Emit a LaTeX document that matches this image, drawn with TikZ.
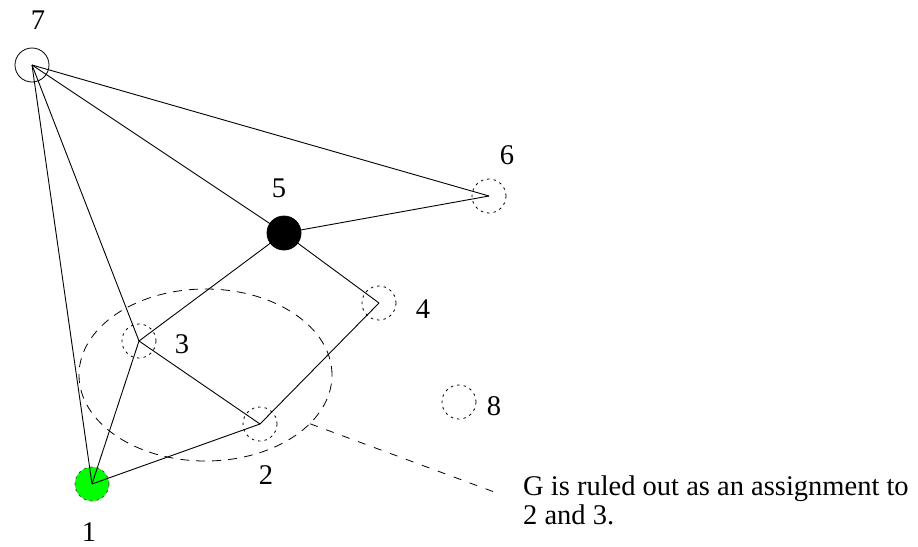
\documentclass[tikz,border=0pt]{standalone}
\usepackage{fontspec}
\setmainfont{Liberation Serif}
\usetikzlibrary{shapes.geometric}

\begin{document}
\begin{tikzpicture}[
  x=1pt, y=-1pt,
  lab/.style={font=\fontsize{28.5}{28.5}\selectfont, inner sep=0pt},
  var/.style={circle, draw, minimum size=34pt, inner sep=0pt, line width=0.8pt},
  open/.style={var, dash pattern=on 2.5pt off 4pt},
  edge/.style={line width=0.9pt},
  ]
\useasboundingbox (0,0) rectangle (918,546);

% ---- Variables -------------------------------------------------------------
\node[var]                                     (v7) at (32,65)   {};
\node[var, fill=black]                         (v5) at (284,233) {};
\node[open]                                    (v6) at (489,196) {};
\node[open]                                    (v4) at (379,303) {};
\node[open]                                    (v3) at (139,341) {};
\node[open]                                    (v2) at (260,424) {};
\node[open]                                    (v8) at (459,402) {};
\node[open, fill=green, draw=black!70]         (v1) at (92,484)  {};

% ---- Labels ----------------------------------------------------------------
\node[lab] (l7) at (38,20)  {7};
\node[lab] (l5) at (279,188) {5};
\node[lab] (l6) at (507,155) {6};
\node[lab] (l4) at (423,309) {4};
\node[lab] (l3) at (182,344) {3};
\node[lab] (l2) at (266,475) {2};
\node[lab] (l8) at (494,406) {8};
\node[lab] (l1) at (89,532) {1};

% ---- Constraints -----------------------------------------------------------
\foreach \a/\b in {v7/v1, v7/v3, v7/v5, v7/v6, v5/v6, v5/v3,
                   v5/v4, v4/v2, v3/v2, v3/v1, v1/v2}
  \draw[edge] (\a.center) -- (\b.center);

% ---- Group of 2 and 3 ------------------------------------------------------
\node[ellipse, draw, line width=0.8pt, dash pattern=on 9pt off 7pt,
      minimum width=253pt, minimum height=172pt, inner sep=0pt]
  (grp) at (205.5,375) {};

\node[lab, anchor=north west, align=left] (note) at (523,476)
  {G is ruled out as an assignment to\\2 and 3.};
\coordinate (tip) at (497,493);
\draw[line width=0.8pt, dash pattern=on 8pt off 9pt] (grp.-25) -- (tip);

\end{tikzpicture}
\end{document}
